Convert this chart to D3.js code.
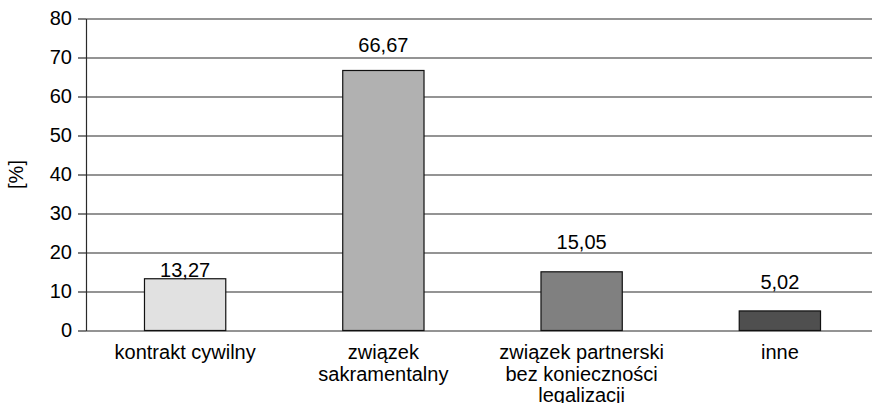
<!DOCTYPE html>
<html>
<head>
<meta charset="utf-8">
<script src="https://cdn.jsdelivr.net/npm/d3@7"></script>
<style>
  body { margin: 0; background: #fff; }
  text { font-family: "Liberation Sans", Arial, sans-serif; fill: #000; }
</style>
</head>
<body>
<div id="my_dataviz"></div>
<script>
// data
var categories = ["kontrakt cywilny", "związek\nsakramentalny", "związek partnerski\nbez konieczności\nlegalizacji", "inne"]
var values = [13.27, 66.67, 15.05, 5.02]
var barColors = ["#e1e1e1", "#b1b1b1", "#808080", "#4f4f4f"]
var yTicks = [0, 10, 20, 30, 40, 50, 60, 70, 80]
// how far each value label sits above its bar (px)
var labelLift = [2, 18, 22.5, 22]

var W = 872, H = 403
// plot box (note: "top" is a reserved window property, so prefix these)
var plotLeft = 86, plotTop = 18.5, plotBottom = 330.5, plotRight = 879

var svg = d3.select("#my_dataviz")
  .append("svg")
  .attr("width", W)
  .attr("height", H)

var fmt = d3.formatLocale({ decimal: ",", thousands: " ", grouping: [3], currency: ["", ""] }).format(".2f")

var x = d3.scaleBand()
  .domain(categories)
  .range([plotLeft, plotRight])
  .padding(0)

var y = d3.scaleLinear()
  .domain([0, 80])
  .range([plotBottom, plotTop])

// gridlines
svg.append("g")
  .attr("transform", "translate(" + plotLeft + ",0)")
  .call(d3.axisLeft(y).tickValues(yTicks).tickSize(-(plotRight - plotLeft)).tickFormat(""))
  .call(function (g) {
    g.select(".domain").remove()
    g.selectAll("line").attr("stroke", "#2a2a2a").attr("stroke-width", 1.2)
  })

// y axis
svg.append("g")
  .attr("transform", "translate(" + plotLeft + ",0)")
  .call(d3.axisLeft(y).tickValues(yTicks).tickSize(8).tickPadding(6).tickSizeOuter(0))
  .call(function (g) {
    g.select(".domain").attr("stroke", "#2a2a2a").attr("stroke-width", 1.2)
    g.selectAll("line").attr("stroke", "#2a2a2a").attr("stroke-width", 1.2)
    g.selectAll("text").style("font-size", "20px").attr("fill", "#000")
      .style("font-family", "'Liberation Sans', Arial, sans-serif")
  })

// y label
svg.append("text")
  .attr("transform", "translate(23," + ((plotTop + plotBottom) / 2) + ") rotate(-90)")
  .attr("text-anchor", "middle")
  .style("font-size", "20px")
  .text("[%]")

// bars
var bw = x.bandwidth() * 0.41
svg.append("g")
  .selectAll("rect")
  .data(values)
  .enter().append("rect")
  .attr("x", function (d, i) { return x(categories[i]) + (x.bandwidth() - bw) / 2 })
  .attr("y", function (d) { return y(d) })
  .attr("width", bw)
  .attr("height", function (d) { return y(0) - y(d) })
  .attr("fill", function (d, i) { return barColors[i] })
  .attr("stroke", "#111")
  .attr("stroke-width", 1.2)

// value labels
svg.append("g")
  .selectAll("text")
  .data(values)
  .enter().append("text")
  .attr("x", function (d, i) { return x(categories[i]) + x.bandwidth() / 2 })
  .attr("y", function (d, i) { return y(d) - labelLift[i] })
  .attr("text-anchor", "middle")
  .style("font-size", "20px")
  .text(function (d) { return fmt(d) })

// category labels
var catG = svg.append("g")
  .selectAll("text")
  .data(categories)
  .enter().append("text")
  .attr("x", function (d) { return x(d) + x.bandwidth() / 2 })
  .attr("y", plotBottom + 28.5)
  .attr("text-anchor", "middle")
  .style("font-size", "20px")

catG.selectAll("tspan")
  .data(function (d) { return d.split("\n") })
  .enter().append("tspan")
  .attr("x", function () { return d3.select(this.parentNode).attr("x") })
  .attr("dy", function (d, i) { return i === 0 ? 0 : 21.5 })
  .text(function (d) { return d })
</script>
</body>
</html>
